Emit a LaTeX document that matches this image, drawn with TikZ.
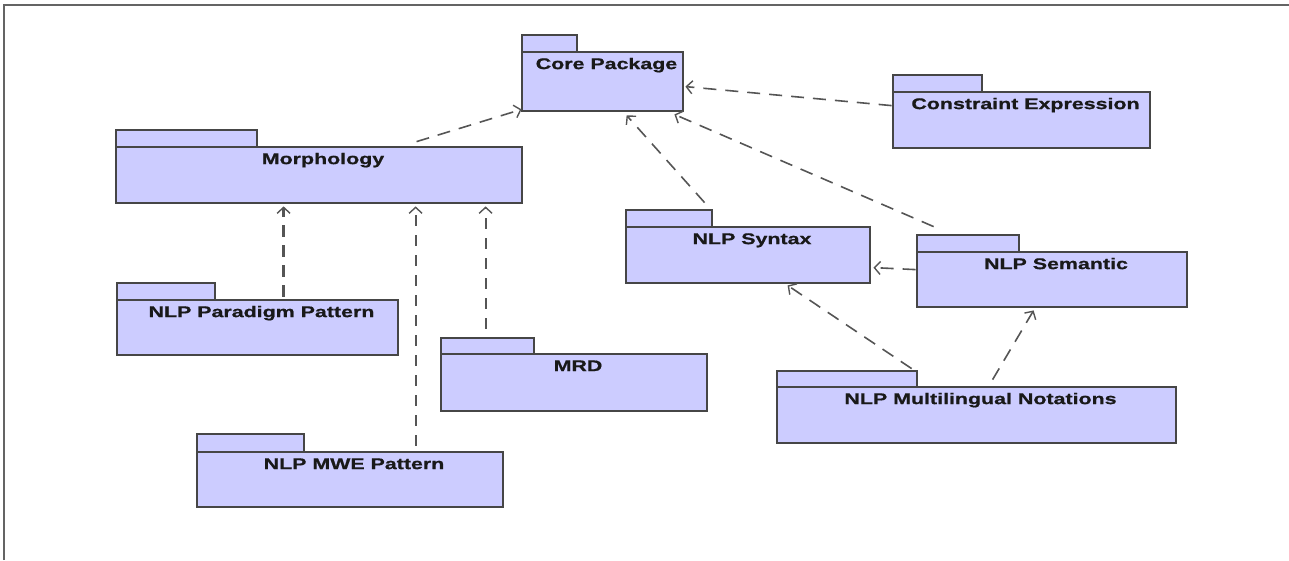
\documentclass[tikz,border=0pt]{standalone}
\usepackage{fontspec}
\usetikzlibrary{arrows.meta,calc,fit}
\newfontfamily\pkgfont[FakeStretch=1.38,FakeBold=0.8]{Liberation Sans Bold}
\definecolor{pkgfill}{RGB}{204,204,255}
\definecolor{pkgline}{RGB}{70,70,70}
\definecolor{deplinecol}{RGB}{85,85,85}
\definecolor{framecol}{RGB}{100,100,100}
\definecolor{txtcol}{RGB}{25,25,25}
\tikzset{
  pkgbox/.style={draw=pkgline, fill=pkgfill, line width=2.8pt, inner sep=0pt, rectangle},
  pkglabel/.style={font=\pkgfont\fontsize{15.5}{18}\selectfont, text=txtcol, inner sep=0pt, anchor=base},
  dep/.style={draw=deplinecol, line width=1.6pt, dash pattern=on 13pt off 9pt,
    -{Straight Barb[length=6pt,width=13pt,line width=1.4pt]}},
  depv/.style={dep, line width=2.2pt, dash pattern=on 11pt off 9pt},
  depthick/.style={dep, line width=3pt, dash pattern=on 12pt off 8pt},
}
\newcommand{\umlpkg}[8]{%
  \node[pkgbox, fit={(#2,#3) (#7,#4)}] (#1-tab) {};
  \node[pkgbox, fit={(#2,#4) (#5,#6)}] (#1) {};
  \node[pkglabel] (#1-label) at ($(#1.north)+(4,18.5)$) {#8};
}
\begin{document}
\begin{tikzpicture}[x=1pt,y=-1pt]
\useasboundingbox (0,0) rectangle (1289,560);
\draw[framecol, line width=1.6pt] (4,560) -- (4,5) -- (1289,5);

% name, x1, tab top, body top, x2, body bottom, tab right, text
\umlpkg{core}{522}{35}{52}{683}{111}{577}{Core Package}
\umlpkg{cons}{893}{75}{92}{1150}{148}{982}{Constraint Expression}
\umlpkg{morph}{116}{130}{147}{522}{203}{257}{Morphology}
\umlpkg{syn}{626}{210}{227}{870}{283}{712}{NLP Syntax}
\umlpkg{sem}{917}{235}{252}{1187}{307}{1019}{NLP Semantic}
\umlpkg{para}{117}{283}{300}{398}{355}{215}{NLP Paradigm Pattern}
\umlpkg{mrd}{441}{338}{354}{707}{411}{534}{MRD}
\umlpkg{mwe}{197}{434}{452}{503}{507}{304}{NLP MWE Pattern}
\umlpkg{multi}{777}{371}{387}{1176}{443}{917}{NLP Multilingual Notations}

% dependencies
\draw[dep] ($(morph.north west)+(302,-4)$) -- ($(core.south west)+(1,-3)$);
\draw[dep] ($(cons.north west)+(0,15)$) -- ($(core.north east)+(1,36)$);
\draw[dep] ($(syn-tab.north west)+(80,-6)$) -- ($(core.south west)+(106,3)$);
\draw[dep] ($(sem-tab.north west)+(18,-7)$) -- ($(core.south east)+(-10,2)$);
\draw[depthick] ($(para.north west)+(168,-2)$) -- ($(morph.south west)+(169,2)$);
\draw[depv] ($(mwe.north west)+(220,-5)$) -- ($(morph.south west)+(301,2)$);
\draw[depv] ($(mrd-tab.north west)+(46,-8)$) -- ($(morph.south west)+(371,2)$);
\draw[dep] ($(sem.north west)+(0,19)$) -- ($(syn.north east)+(2,42)$);
\draw[dep] ($(multi-tab.north west)+(136,-1)$) -- ($(syn.south west)+(163,1)$);
\draw[dep] ($(multi.north west)+(217,-6)$) -- ($(sem.south west)+(118,2)$);
\end{tikzpicture}
\end{document}
